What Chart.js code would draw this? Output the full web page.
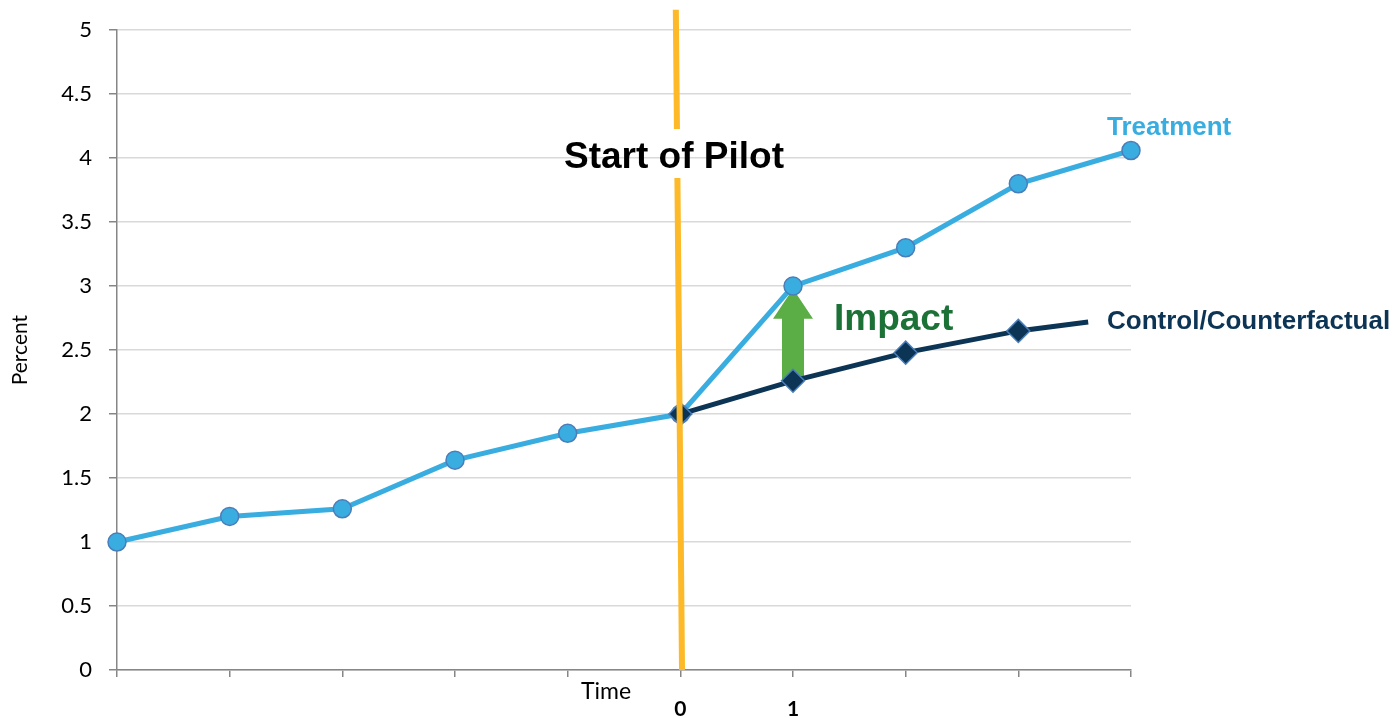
<!DOCTYPE html>
<html>
<head>
<meta charset="utf-8">
<script src="https://cdn.jsdelivr.net/npm/chart.js@4/dist/chart.umd.min.js"></script>
<style>
  html, body { margin: 0; padding: 0; background: #fff; }
  #wrap { width: 1399px; height: 718px; position: relative; }
</style>
</head>
<body>
<div id="wrap"><canvas id="c" width="1399" height="718"></canvas></div>
<script>
// Time periods (0 = start of pilot sits at index 5)
const periods = [0, 1, 2, 3, 4, 5, 6, 7, 8, 9];
const periodLabels = ['', '', '', '', '', '0', '1', '', '', ''];
const treatmentValues = [1.0, 1.2, 1.26, 1.64, 1.85, 2.0, 3.0, 3.3, 3.8, 4.06];
// Counterfactual path from the pilot start onwards; the last point is the unmarked line end
const controlPeriods = [5, 6, 7, 8, 8.62];
const controlValues = [2.0, 2.26, 2.48, 2.65, 2.72];
const controlMarked = [true, true, true, true, false];
const yTicks = [0, 0.5, 1, 1.5, 2, 2.5, 3, 3.5, 4, 4.5, 5];
// Pilot start line runs slightly slanted from top to bottom
const pilotLine = { top: { x: 4.96, y: 5.16 }, bottom: { x: 5.015, y: 0 } };
const impactArrow = { x: 6, from: 2.27, to: 2.98 };

const BLUE = '#3AADE0';
const NAVY = '#0C3455';
const EDGE = '#4A7EBB';
const BODY_FONT = 'Lato, "Open Sans", sans-serif';

const treatmentPts = periods.map((p, i) => ({ x: p, y: treatmentValues[i] }));
const controlPts = controlPeriods.map((p, i) => ({ x: p, y: controlValues[i] }));

const annotations = {
  id: 'annotations',
  beforeDatasetsDraw(chart) {
    const { ctx, scales: { x, y } } = chart;
    // Impact arrow between the two lines
    const ax = x.getPixelForValue(impactArrow.x);
    const yBase = y.getPixelForValue(impactArrow.from);
    const yTip = y.getPixelForValue(impactArrow.to);
    const headH = 30, shaftW = 11, headW = 20;
    ctx.save();
    ctx.fillStyle = '#5BAD45';
    ctx.beginPath();
    ctx.moveTo(ax - shaftW, yBase);
    ctx.lineTo(ax - shaftW, yTip + headH);
    ctx.lineTo(ax - headW, yTip + headH);
    ctx.lineTo(ax, yTip);
    ctx.lineTo(ax + headW, yTip + headH);
    ctx.lineTo(ax + shaftW, yTip + headH);
    ctx.lineTo(ax + shaftW, yBase);
    ctx.closePath();
    ctx.fill();
    ctx.restore();
  },
  afterDatasetsDraw(chart) {
    const { ctx, scales: { x, y } } = chart;
    ctx.save();
    // Start of pilot line, interrupted around its caption
    const x0 = x.getPixelForValue(pilotLine.top.x), y0 = y.getPixelForValue(pilotLine.top.y);
    const x1 = x.getPixelForValue(pilotLine.bottom.x), y1 = y.getPixelForValue(pilotLine.bottom.y);
    const at = (py) => x0 + (x1 - x0) * (py - y0) / (y1 - y0);
    const gapTop = 129, gapBottom = 178;
    ctx.strokeStyle = '#FDB927';
    ctx.lineWidth = 6;
    ctx.beginPath();
    ctx.moveTo(x0, y0); ctx.lineTo(at(gapTop), gapTop);
    ctx.moveTo(at(gapBottom), gapBottom); ctx.lineTo(x1, y1);
    ctx.stroke();

    ctx.textBaseline = 'middle';
    ctx.textAlign = 'center';
    ctx.fillStyle = '#000';
    ctx.font = 'bold 37px "Liberation Sans", Arial, sans-serif';
    ctx.fillText('Start of Pilot', 674, y.getPixelForValue(4));

    ctx.textAlign = 'left';
    ctx.fillStyle = '#1B7136';
    ctx.font = 'bold 37px "Liberation Sans", Arial, sans-serif';
    ctx.fillText('Impact', 834, 320);

    ctx.font = 'bold 26px "Liberation Sans", Arial, sans-serif';
    ctx.fillStyle = BLUE;
    ctx.fillText('Treatment', 1107, 128);
    ctx.fillStyle = NAVY;
    ctx.fillText('Control/Counterfactual', 1107, 322);

    ctx.fillStyle = '#000';
    ctx.font = '23px ' + BODY_FONT;
    ctx.textAlign = 'center';
    ctx.fillText('Time', 606, 692);
    ctx.restore();
  }
};

new Chart(document.getElementById('c'), {
  type: 'line',
  data: {
    datasets: [
      {
        label: 'Control/Counterfactual',
        data: controlPts,
        borderColor: NAVY,
        borderWidth: 5,
        backgroundColor: NAVY,
        pointStyle: 'rectRot',
        pointRadius: controlMarked.map(m => m ? 11.5 : 0),
        pointBackgroundColor: NAVY,
        pointBorderColor: EDGE,
        pointBorderWidth: 1.5,
        tension: 0,
        clip: false,
        order: 0
      },
      {
        label: 'Treatment',
        data: treatmentPts,
        borderColor: BLUE,
        borderWidth: 5,
        backgroundColor: BLUE,
        pointStyle: 'circle',
        pointRadius: 9,
        pointBackgroundColor: BLUE,
        pointBorderColor: EDGE,
        pointBorderWidth: 1.5,
        tension: 0,
        clip: false,
        order: 1
      }
    ]
  },
  plugins: [annotations],
  options: {
    responsive: false,
    animation: false,
    events: [],
    layout: { padding: { left: 0, right: 268, top: 30, bottom: 0 } },
    plugins: { legend: { display: false }, tooltip: { enabled: false } },
    scales: {
      x: {
        type: 'linear',
        min: 0,
        max: 9,
        afterBuildTicks(scale) { scale.ticks = periods.map(v => ({ value: v })); },
        afterFit(scale) { scale.height = 48; },
        grid: { drawOnChartArea: false, drawTicks: true, tickLength: 7, color: '#868686', lineWidth: 1.5 },
        border: { color: '#868686', width: 1.5 },
        ticks: {
          autoSkip: false,
          maxRotation: 0,
          padding: 20,
          color: '#000',
          font: { family: BODY_FONT, size: 21, weight: 'bold' },
          callback: (v) => periodLabels[periods.indexOf(v)] ?? ''
        }
      },
      y: {
        min: 0,
        max: 5,
        afterBuildTicks(scale) { scale.ticks = yTicks.map(v => ({ value: v })); },
        afterFit(scale) { scale.width = 117; },
        grid: { color: '#D9D9D9', lineWidth: 1.5, tickLength: 8, tickColor: '#868686' },
        border: { color: '#868686', width: 1.5 },
        title: {
          display: true,
          text: 'Percent',
          color: '#000',
          font: { family: BODY_FONT, size: 21 },
          padding: { top: 8, bottom: 0 }
        },
        ticks: {
          padding: 17,
          color: '#000',
          font: { family: BODY_FONT, size: 22 },
          callback: (v) => String(v)
        }
      }
    }
  }
});
</script>
</body>
</html>
